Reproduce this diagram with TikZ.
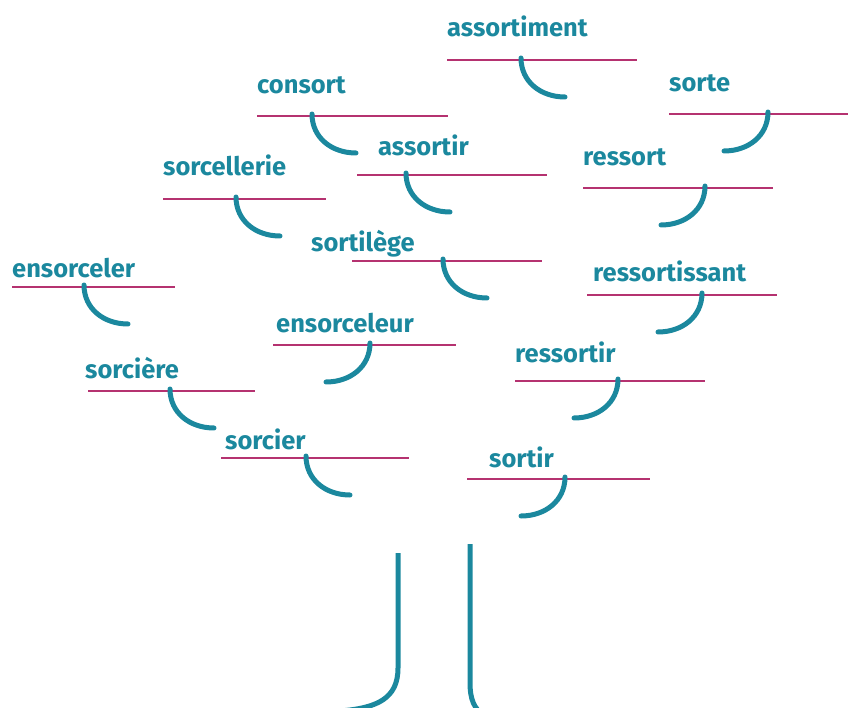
\documentclass[tikz,border=0pt]{standalone}
\usepackage{fontspec}
\setmainfont{Fira Sans}
\definecolor{treeteal}{HTML}{1B889E}
\definecolor{branchmag}{HTML}{B53270}
\tikzset{
  word/.style={anchor=base west, inner sep=0pt, text=treeteal,
    font=\fontsize{25.5}{30}\selectfont\bfseries},
  branchline/.style={draw=branchmag, line width=2.4pt},
  hook/.style={draw=treeteal, line width=5pt, line cap=round},
}
\begin{document}
\begin{tikzpicture}[x=1pt, y=-1pt]
  \useasboundingbox (0,0) rectangle (848,708);
  % #1 name, #2 text x, #3 baseline, #4/#5 line ends, #6 line y, #7 hook x, #8 side (1 right, -1 left)
  \def\branch#1#2#3#4#5#6#7#8{%
    \node[word] (#1) at (#2,#3) {#1};
    \draw[branchline] (#4,#6) -- (#5,#6);
    \draw[hook] (#7,{#6-2}) .. controls (#7,{#6+22}) and ({#7+#8*20},{#6+37}) .. ({#7+#8*44},{#6+37});
  }

  % Branches, top to bottom
  \branch{assortiment}{447}{37}{447}{637}{60}{521}{1}
  \branch{sorte}{669}{92}{669}{848}{114}{768}{-1}
  \branch{consort}{257}{94}{257}{448}{116}{312}{1}
  \branch{assortir}{378}{156}{357}{547}{175}{406}{1}
  \branch{ressort}{583}{166}{583}{773}{188}{705}{-1}
  \branch{sorcellerie}{163}{176}{163}{326}{199}{236}{1}
  \branch{sortilège}{311}{252}{352}{542}{261}{443}{1}
  \branch{ensorceler}{12}{278}{12}{175}{287}{84}{1}
  \branch{ressortissant}{593}{282}{587}{777}{295}{702}{-1}
  \branch{ensorceleur}{276}{332}{273}{456}{345}{370}{-1}
  \branch{ressortir}{515}{362}{515}{705}{381}{618}{-1}
  \branch{sorcière}{85}{378}{88}{255}{391}{170}{1}
  \branch{sorcier}{225}{449}{221}{409}{458}{306}{1}
  \branch{sortir}{489}{467}{467}{650}{479}{565}{-1}

  % Trunk
  \begin{scope}
    \clip (0,0) rectangle (848,708);
    \draw[hook, line cap=butt] (398,553) -- (398,668) .. controls (398,698) and (378,708) .. (340,711);
    \draw[hook, line cap=butt] (470,544) -- (470,682) .. controls (470,700) and (474,708) .. (484,716);
  \end{scope}
\end{tikzpicture}
\end{document}
